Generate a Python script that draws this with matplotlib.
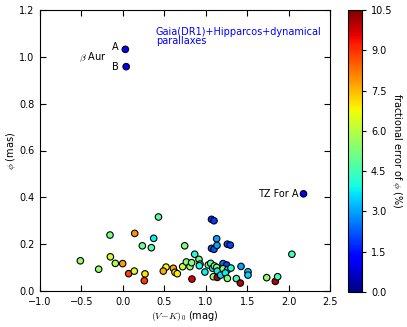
import matplotlib
matplotlib.use("Agg")
import matplotlib.pyplot as plt
import numpy as np

# (V-K)_0 colour, angular diameter phi (mas), fractional error (%)
vk = [0.03, 0.04, 2.18,
      0.43, 1.07, 1.10, -0.155, 0.143, 0.372, 0.235, 0.344, 0.746,
      1.132, 1.07, 1.10, 1.136, 1.261, 1.297, 2.04,
      -0.513, -0.292, -0.151, -0.091, -0.002, 0.07, 0.138, 0.267, 0.259,
      0.521, 0.488, 0.609, 0.629, 0.657, 0.722, 0.766, 0.81, 0.83,
      0.867, 0.919, 0.931, 0.834, 0.99, 1.031, 1.06, 1.084, 1.104,
      1.132, 1.14, 1.092, 1.14, 1.18, 1.209, 1.253, 1.209, 1.265,
      1.305, 1.237, 1.261, 1.37, 1.418, 1.426, 1.51, 1.51, 1.736,
      1.84, 1.868, 0.923]
phi = [1.032, 0.958, 0.415,
       0.316, 0.306, 0.300, 0.239, 0.246, 0.225, 0.193, 0.185, 0.193,
       0.223, 0.182, 0.178, 0.195, 0.200, 0.196, 0.157,
       0.129, 0.093, 0.146, 0.118, 0.117, 0.074, 0.085, 0.073, 0.044,
       0.102, 0.085, 0.097, 0.080, 0.074, 0.104, 0.124, 0.104, 0.121,
       0.157, 0.135, 0.115, 0.051, 0.081, 0.111, 0.118, 0.097, 0.107,
       0.101, 0.085, 0.061, 0.058, 0.068, 0.117, 0.111, 0.095, 0.091,
       0.098, 0.077, 0.054, 0.053, 0.034, 0.105, 0.082, 0.068, 0.057,
       0.041, 0.061, 0.108]
err = [1.2, 1.2, 1.3,
       4.8, 1.9, 1.9, 5.2, 7.9, 3.8, 5.0, 4.7, 5.2,
       3.0, 2.2, 2.2, 3.0, 2.0, 2.0, 4.5,
       5.5, 5.6, 6.3, 5.9, 7.8, 8.8, 6.4, 7.0, 8.9,
       6.7, 7.6, 7.7, 7.0, 6.9, 6.3, 5.3, 5.6, 5.3,
       4.2, 5.0, 5.2, 9.6, 3.8, 5.0, 4.5, 3.8, 5.2,
       5.3, 3.8, 5.5, 10.0, 3.6, 2.5, 2.0, 5.4, 3.5,
       4.2, 3.8, 5.4, 4.5, 10.0, 3.0, 3.5, 3.5, 5.5,
       10.0, 4.5, 3.9]

xticks = [-1.0, -0.5, 0.0, 0.5, 1.0, 1.5, 2.0, 2.5]
yticks = [0.0, 0.2, 0.4, 0.6, 0.8, 1.0, 1.2]
cticks = [0.0, 1.5, 3.0, 4.5, 6.0, 7.5, 9.0, 10.5]

FS = 7
plt.rcParams.update({
    "font.family": "DejaVu Sans",
    "font.size": FS,
    "mathtext.fontset": "cm",
    "xtick.direction": "in",
    "ytick.direction": "in",
    "xtick.top": True,
    "ytick.right": True,
    "xtick.major.size": 4,
    "ytick.major.size": 4,
    "axes.unicode_minus": True,
})

fig = plt.figure(figsize=(4.07, 3.27), dpi=100)
ax = fig.add_axes([40/407, 1-291/327, 290/407, 281/327])
cax = fig.add_axes([348/407, 1-292/327, 14/407, 282/327])

sc = ax.scatter(vk, phi, c=err, cmap="jet", vmin=0, vmax=10.5, s=22,
                edgecolors="black", linewidths=0.8, zorder=3)
ax.set_xlim(-1.0, 2.5)
ax.set_ylim(0.0, 1.2)
ax.set_xticks(xticks)
ax.set_yticks(yticks)
ax.tick_params(labelsize=FS, pad=4)
ax.set_xlabel(r"$(V\!-\!K)_0$ (mag)", fontsize=FS, labelpad=2)
ax.set_ylabel(r"$\phi$ (mas)", fontsize=FS, labelpad=1)

ax.text(-0.055, 1.040, "A", ha="right", va="center", fontsize=FS)
ax.text(-0.055, 0.958, "B", ha="right", va="center", fontsize=FS)
ax.text(-0.195, 0.998, r"$\beta$ Aur", ha="right", va="center", fontsize=FS)
ax.text(2.117, 0.415, "TZ For A", ha="right", va="center", fontsize=FS)
ax.text(0.396, 1.128, "Gaia(DR1)+Hipparcos+dynamical\nparallaxes", color="blue",
        ha="left", va="top", fontsize=FS, linespacing=0.95)

cb = fig.colorbar(sc, cax=cax, ticks=cticks)
cb.ax.tick_params(labelsize=FS, direction="out", length=3)
cb.set_label(r"fractional error of $\phi$ (%)", rotation=270, labelpad=8, fontsize=FS)

fig.savefig("out.png", dpi=100)
